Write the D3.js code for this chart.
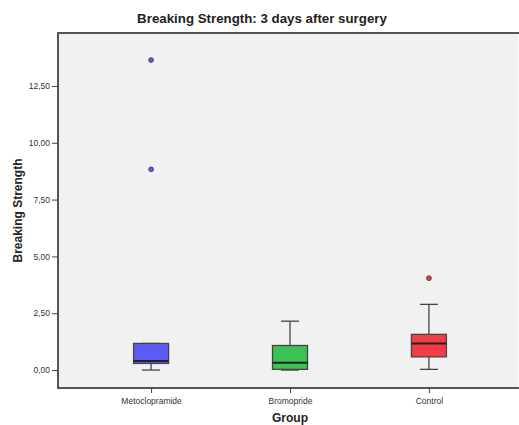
<!DOCTYPE html>
<html>
<head>
<meta charset="utf-8">
<script src="https://cdn.jsdelivr.net/npm/d3@7"></script>
<style>
  body { margin: 0; background: #fff; overflow: hidden; }
  svg { display: block; font-family: "Liberation Sans", Arial, sans-serif; }
</style>
</head>
<body>
<script>
// Box plot values
var groups = ["Metoclopramide", "Bromopride", "Control"];
var whiskerLow = [0.00, 0.00, 0.03];
var q1 = [0.29, 0.03, 0.58];
var median = [0.40, 0.32, 1.17];
var q3 = [1.17, 1.08, 1.57];
var whiskerHigh = [1.17, 2.15, 2.89];
var outliers = [[13.64, 8.83], [], [4.04]];
var colors = ["#5b5bf7", "#3ec154", "#f23d47"];
var yTicks = [0, 2.5, 5, 7.5, 10, 12.5];

var width = 519, height = 425;
var margin = { top: 33, right: -3, bottom: 37, left: 58 };
var plotBottom = height - margin.bottom;

var svg = d3.select("body").append("svg")
    .attr("width", width)
    .attr("height", height);

var x = d3.scalePoint().domain(groups)
    .range([margin.left, width - margin.right]).padding(0.67);
var y = d3.scaleLinear().domain([-0.79, 14.83])
    .range([plotBottom, margin.top]);

var fmt = function (d) { return d3.format(".2f")(d).replace(".", ","); };

// Plot background (frame on top, left and bottom only; right side runs off the page)
svg.append("rect")
    .attr("x", margin.left)
    .attr("y", margin.top)
    .attr("width", width - 1 - margin.left)
    .attr("height", plotBottom - margin.top)
    .attr("fill", "#f1f1f1");
svg.append("path")
    .attr("d", "M" + width + "," + margin.top + "H" + margin.left + "V" + plotBottom + "H" + width)
    .attr("fill", "none")
    .attr("stroke", "#555")
    .attr("stroke-width", 2);

// Y axis
var yAxis = svg.append("g")
    .attr("transform", "translate(" + margin.left + ",0)")
    .call(d3.axisLeft(y).tickValues(yTicks).tickFormat(fmt).tickSize(6));
yAxis.select(".domain").remove();
yAxis.selectAll("line").attr("stroke", "#444");
yAxis.selectAll("text").attr("fill", "#333").style("font-size", "8.5px").attr("dx", "1");

// X axis
var xAxis = svg.append("g")
    .attr("transform", "translate(0," + plotBottom + ")")
    .call(d3.axisBottom(x).tickSize(5));
xAxis.select(".domain").remove();
xAxis.selectAll("line").attr("stroke", "#444");
xAxis.selectAll("text").attr("fill", "#333").style("font-size", "8.5px").attr("dy", "0.95em");

var boxW = 35, capW = 18;

var g = svg.selectAll(".box").data(groups).enter().append("g").attr("class", "box");

// whiskers
g.append("line")
    .attr("x1", function (d) { return x(d); })
    .attr("x2", function (d) { return x(d); })
    .attr("y1", function (d, i) { return y(whiskerLow[i]); })
    .attr("y2", function (d, i) { return y(whiskerHigh[i]); })
    .attr("stroke", "#444").attr("stroke-width", 1.3);
g.append("line")
    .attr("x1", function (d) { return x(d) - capW / 2; })
    .attr("x2", function (d) { return x(d) + capW / 2; })
    .attr("y1", function (d, i) { return y(whiskerLow[i]); })
    .attr("y2", function (d, i) { return y(whiskerLow[i]); })
    .attr("stroke", "#444").attr("stroke-width", 1.3);
g.append("line")
    .attr("x1", function (d) { return x(d) - capW / 2; })
    .attr("x2", function (d) { return x(d) + capW / 2; })
    .attr("y1", function (d, i) { return y(whiskerHigh[i]); })
    .attr("y2", function (d, i) { return y(whiskerHigh[i]); })
    .attr("stroke", "#444").attr("stroke-width", 1.3);

// boxes
g.append("rect")
    .attr("x", function (d) { return x(d) - boxW / 2; })
    .attr("width", boxW)
    .attr("y", function (d, i) { return y(q3[i]); })
    .attr("height", function (d, i) { return y(q1[i]) - y(q3[i]); })
    .attr("fill", function (d, i) { return colors[i]; })
    .attr("stroke", "#444").attr("stroke-width", 1.3);

// medians
g.append("line")
    .attr("x1", function (d) { return x(d) - boxW / 2; })
    .attr("x2", function (d) { return x(d) + boxW / 2; })
    .attr("y1", function (d, i) { return y(median[i]); })
    .attr("y2", function (d, i) { return y(median[i]); })
    .attr("stroke", "#222").attr("stroke-width", 2);

// outliers
groups.forEach(function (grp, i) {
    svg.selectAll(".out" + i).data(outliers[i]).enter().append("circle")
        .attr("cx", x(grp))
        .attr("cy", function (d) { return y(d); })
        .attr("r", 2.4)
        .attr("fill", colors[i])
        .attr("stroke", "#333").attr("stroke-width", 0.8);
});

// Title and axis labels
svg.append("text")
    .attr("x", 262).attr("y", 23)
    .attr("text-anchor", "middle")
    .style("font-size", "13.3px").style("font-weight", "bold")
    .attr("fill", "#222")
    .text("Breaking Strength: 3 days after surgery");

svg.append("text")
    .attr("transform", "translate(22," + ((margin.top + plotBottom) / 2) + ") rotate(-90)")
    .attr("text-anchor", "middle")
    .style("font-size", "12px").style("font-weight", "bold")
    .attr("fill", "#222")
    .text("Breaking Strength");

svg.append("text")
    .attr("x", x("Bromopride")).attr("y", 422)
    .attr("text-anchor", "middle")
    .style("font-size", "12px").style("font-weight", "bold")
    .attr("fill", "#222")
    .text("Group");
</script>
</body>
</html>
